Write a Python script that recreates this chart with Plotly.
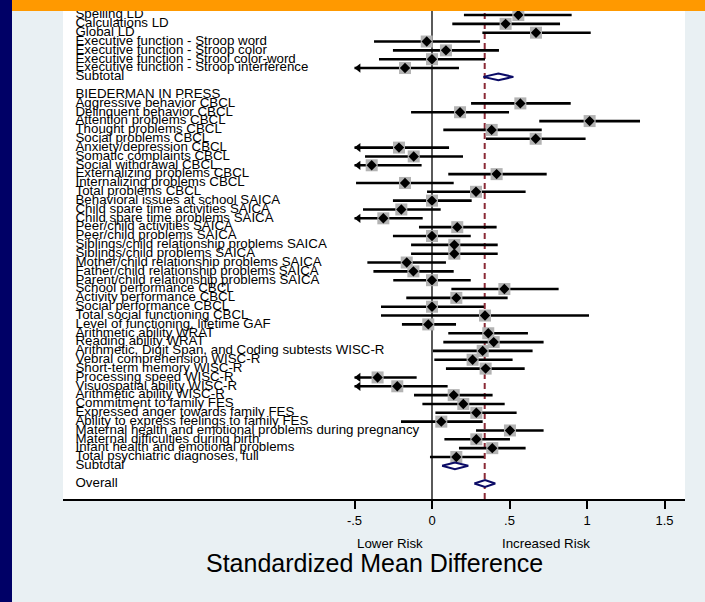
import plotly.graph_objects as go

# ---------------- data ----------------
labels = [
    "Spelling LD", "Calculations LD", "Global LD",
    "Executive function - Stroop word", "Executive function - Stroop color",
    "Executive function - Strool color-word", "Executive function - Stroop interference",
    "Subtotal", "",
    "BIEDERMAN IN PRESS",
    "Aggressive behavior CBCL", "Delinquent behavior CBCL", "Attention problems CBCL",
    "Thought problems CBCL", "Social problems CBCL", "Anxiety/depression CBCL",
    "Somatic complaints CBCL", "Social withdrawal CBCL", "Externalizing problems CBCL",
    "Internalizing problems CBCL", "Total problems CBCL", "Behavioral issues at school SAICA",
    "Child spare time activities SAICA", "Child spare time problems SAICA",
    "Peer/child activities SAICA", "Peer/child problems SAICA",
    "Siblings/child relationship problems SAICA", "Siblings/child problems SAICA",
    "Mother/child relationship problems SAICA", "Father/child relationship problems SAICA",
    "Parent/child relationship problems SAICA", "School performance CBCL",
    "Activity performance CBCL", "Social performance CBCL", "Total social functioning CBCL",
    "Level of functioning, lifetime GAF", "Arithmetic ability WRAT", "Reading ability WRAT",
    "Arithmetic, Digit Span, and Coding subtests WISC-R", "Vebral comprehension WISC-R",
    "Short-term memory WISC-R", "Processing speed WISC-R", "Visuospatial ability WISC-R",
    "Arithmetic ability WISC-R", "Commitment to family FES",
    "Expressed anger towards family FES", "Ability to express feelings to family FES",
    "Maternal health and emotional problems during pregnancy",
    "Maternal difficulties during birth", "Infant health and emotional problems",
    "Total psychiatric diagnoses, full",
    "Subtotal", "",
    "Overall",
]

# row kind: s = study, d = pooled diamond, h = header, b = blank
kinds = ["s"] * 7 + ["d", "b", "h"] + ["s"] * 41 + ["d", "b", "d"]

est = [0.557, 0.475, 0.671, -0.034, 0.090, 0.000, -0.174,
       0.428, None, None,
       0.570, 0.181, 1.017, 0.385, 0.669, -0.213, -0.118, -0.389, 0.417, -0.174,
       0.284, 0.000, -0.198, -0.314, 0.163, 0.000, 0.144, 0.144, -0.163, -0.120,
       0.000, 0.467, 0.157, 0.000, 0.342, -0.024, 0.363, 0.398, 0.327, 0.262,
       0.346, -0.351, -0.224, 0.140, 0.202, 0.286, 0.060, 0.503, 0.286, 0.389,
       0.157,
       0.148, None, 0.342]

ci_lo = [0.206, 0.131, 0.325, -0.374, -0.252, -0.342, -0.560,
         0.331, None, None,
         0.252, -0.135, 0.692, 0.073, 0.348, -0.560, -0.432, -0.700, 0.105, -0.490,
         -0.032, -0.252, -0.445, -0.620, -0.084, -0.252, -0.135, -0.135, -0.417, -0.378,
         -0.250, 0.125, -0.166, -0.329, -0.329, -0.194, 0.105, 0.073, 0.006, 0.015,
         0.090, -0.620, -0.560, -0.116, -0.062, 0.022, -0.200, 0.284, 0.080, 0.174,
         -0.013,
         0.065, None, 0.273]

ci_hi = [0.901, 0.826, 1.024, 0.310, 0.432, 0.342, 0.174,
         0.525, None, None,
         0.895, 0.497, 1.342, 0.708, 0.991, 0.110, 0.200, -0.067, 0.740, 0.140,
         0.604, 0.256, 0.056, -0.060, 0.417, 0.250, 0.424, 0.424, 0.090, 0.140,
         0.250, 0.817, 0.488, 0.335, 1.013, 0.155, 0.619, 0.720, 0.649, 0.520,
         0.598, -0.099, 0.101, 0.391, 0.469, 0.546, 0.327, 0.720, 0.503, 0.604,
         0.335,
         0.234, None, 0.408]

overall_line = 0.34
tick_vals = [-0.5, 0, 0.5, 1, 1.5]
tick_text = ["-.5", "0", ".5", "1", "1.5"]

# ---------------- styling ----------------
FONT = "Liberation Sans, Arial, sans-serif"
CI_MIN = -0.5
LABEL_X = -2.30
W, H = 705, 602
ML, MR, MT, MB = 63, 20, 0, 103
PW, PH = W - ML - MR, H - MT - MB
NAVY = "#0B0B66"

fig = go.Figure()

rows = list(range(len(labels)))

# CI lines
cx, cy = [], []
ax_, ay_ = [], []
for i in rows:
    if kinds[i] != "s":
        continue
    lo = ci_lo[i]
    if lo < CI_MIN:
        lo = CI_MIN
        ax_.append(CI_MIN + 0.025)
        ay_.append(i)
    cx += [lo, ci_hi[i], None]
    cy += [i, i, None]
fig.add_trace(go.Scatter(x=cx, y=cy, mode="lines",
                         line=dict(color="black", width=2.6), hoverinfo="skip"))
fig.add_trace(go.Scatter(x=ax_, y=ay_, mode="markers",
                         marker=dict(symbol="triangle-left", size=8, color="black"),
                         hoverinfo="skip"))

# weight boxes + point estimates
sx = [est[i] for i in rows if kinds[i] == "s"]
sy = [i for i in rows if kinds[i] == "s"]
fig.add_trace(go.Scatter(x=sx, y=sy, mode="markers",
                         marker=dict(symbol="square", size=12, color="#B3B3B3"),
                         hoverinfo="skip"))
fig.add_trace(go.Scatter(x=sx, y=sy, mode="markers",
                         marker=dict(symbol="diamond", size=8, color="black"),
                         hoverinfo="skip"))

# pooled diamonds
half_h = 0.38
for i in rows:
    if kinds[i] != "d":
        continue
    fig.add_trace(go.Scatter(
        x=[ci_lo[i], est[i], ci_hi[i], est[i], ci_lo[i]],
        y=[i, i - half_h, i, i + half_h, i],
        mode="lines", fill="toself", fillcolor="white",
        line=dict(color=NAVY, width=2), hoverinfo="skip"))

# row labels
fig.add_trace(go.Scatter(
    x=[LABEL_X] * len(labels), y=rows, text=labels, mode="text",
    textposition="middle right", cliponaxis=False,
    textfont=dict(family=FONT, size=13.3, color="black"), hoverinfo="skip"))

shapes = [
    dict(type="line", xref="x", yref="paper", x0=0, x1=0, y0=0, y1=1,
         line=dict(color="black", width=1.3), layer="below"),
    dict(type="line", xref="x", yref="paper", x0=overall_line, x1=overall_line, y0=0, y1=1,
         line=dict(color="#8B2A36", width=2, dash="6px,4px"), layer="below"),
    # orange top bar
    dict(type="rect", xref="paper", yref="paper",
         x0=-ML / PW, x1=(W - ML) / PW, y0=1 - 11 / PH, y1=1 + MT / PH + 0.01,
         fillcolor="#FF9900", line=dict(width=0), layer="above"),
    # navy left strip
    dict(type="rect", xref="paper", yref="paper",
         x0=-ML / PW - 0.01, x1=(12 - ML) / PW, y0=-MB / PH - 0.01, y1=1 + 0.01,
         fillcolor="#000066", line=dict(width=0), layer="above"),
]

annotations = [
    dict(text="Lower Risk", x=-0.27, xref="x", y=-(543.5 - (MT + PH)) / PH, yref="paper",
         showarrow=False, xanchor="center", yanchor="middle",
         font=dict(family=FONT, size=13.3, color="black")),
    dict(text="Increased Risk", x=0.735, xref="x", y=-(543.5 - (MT + PH)) / PH, yref="paper",
         showarrow=False, xanchor="center", yanchor="middle",
         font=dict(family=FONT, size=13.3, color="black")),
    dict(text="Standardized Mean Difference", x=0.5, xref="paper",
         y=-(563 - (MT + PH)) / PH, yref="paper",
         showarrow=False, xanchor="center", yanchor="middle",
         font=dict(family=FONT, size=25, color="black")),
]

fig.update_layout(
    width=W, height=H,
    margin=dict(l=ML, r=MR, t=MT, b=MB, pad=0),
    paper_bgcolor="#E9F0F3", plot_bgcolor="white",
    showlegend=False,
    shapes=shapes, annotations=annotations,
    xaxis=dict(range=[(ML - 432) / 155, (W - MR - 432) / 155],
               showgrid=False, zeroline=False,
               showline=True, linecolor="black", linewidth=2,
               ticks="outside", ticklen=8, tickwidth=2, tickcolor="black",
               tickvals=tick_vals, ticktext=tick_text,
               tickfont=dict(family=FONT, size=13, color="black"),
               fixedrange=True),
    yaxis=dict(range=[(PH - 15) / 8.84, -15 / 8.84], visible=False,
               showgrid=False, zeroline=False, fixedrange=True),
)

fig.write_html("out.html")
